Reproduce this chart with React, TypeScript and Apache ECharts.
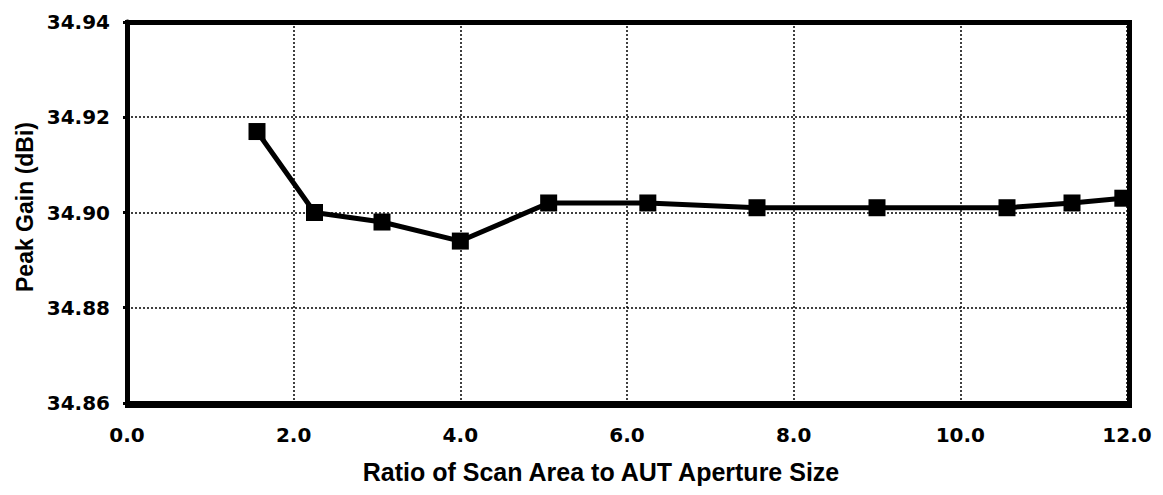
import React, { useEffect, useRef } from "react";
import * as echarts from "echarts";

const ratio = [1.56, 2.25, 3.06, 4.0, 5.06, 6.25, 7.56, 9.0, 10.56, 11.34, 11.95];
const peakGain = [34.917, 34.9, 34.898, 34.894, 34.902, 34.902, 34.901, 34.901, 34.901, 34.902, 34.903];
const xTitle = "Ratio of Scan Area to AUT Aperture Size";
const yTitle = "Peak Gain (dBi)";

const FONT = "'Liberation Sans', Arial, sans-serif";
const TICK_FONT = "'DejaVu Sans', sans-serif";

export default function App() {
  const ref = useRef<HTMLDivElement>(null);
  useEffect(() => {
    if (!ref.current) return;
    const chart = echarts.init(ref.current, null, { renderer: "svg" });
    const data = ratio.map((x, i) => [x, peakGain[i]]);
    chart.setOption({
      animation: false,
      backgroundColor: "#fff",
      grid: { left: 127, right: 36, top: 22, bottom: 92, show: false },
      xAxis: {
        type: "value",
        min: 0,
        max: 12,
        interval: 2,
        axisLine: { show: true, onZero: false, lineStyle: { color: "#000", width: 5 } },
        axisTick: { show: true, length: 4, lineStyle: { color: "#000", width: 3 } },
        axisLabel: {
          fontFamily: TICK_FONT,
          fontWeight: "bold",
          fontSize: 20,
          color: "#000",
          margin: 22,
          formatter: (v: number) => v.toFixed(1),
        },
        splitLine: { show: true, lineStyle: { color: "#000", width: 1.5, type: [2, 2] } },
      },
      yAxis: {
        type: "value",
        min: 34.86,
        max: 34.94,
        interval: 0.02,
        axisLine: { show: true, lineStyle: { color: "#000", width: 5 } },
        axisTick: { show: true, length: 4, lineStyle: { color: "#000", width: 3 } },
        axisLabel: {
          fontFamily: TICK_FONT,
          fontWeight: "bold",
          fontSize: 20,
          color: "#000",
          margin: 17,
          formatter: (v: number) => v.toFixed(2),
        },
        splitLine: { show: true, lineStyle: { color: "#000", width: 1.5, type: [2, 2] } },
      },
      graphic: [
        {
          type: "rect",
          left: 125,
          top: 20,
          shape: { width: 1127 - 125, height: 403 - 20 },
          style: { fill: "none", stroke: "#000", lineWidth: 5 },
          z: 100,
          silent: true,
        },
        {
          type: "text",
          x: 601,
          y: 472,
          style: {
            text: xTitle,
            fontFamily: FONT,
            fontWeight: "bold",
            fontSize: 25,
            fill: "#000",
            align: "center",
            verticalAlign: "middle",
          },
        },
        {
          type: "text",
          x: 25,
          y: 207,
          rotation: Math.PI / 2,
          style: {
            text: yTitle,
            fontFamily: FONT,
            fontWeight: "bold",
            fontSize: 23,
            fill: "#000",
            align: "center",
            verticalAlign: "middle",
          },
        },
      ],
      series: [
        {
          type: "line",
          data,
          clip: false,
          symbol: "rect",
          symbolSize: 17,
          lineStyle: { color: "#000", width: 5 },
          itemStyle: { color: "#000" },
          z: 5,
        },
      ],
    });
    return () => chart.dispose();
  }, []);
  return <div ref={ref} style={{ width: 1163, height: 495, position: "absolute", left: 0, top: 0 }} />;
}
